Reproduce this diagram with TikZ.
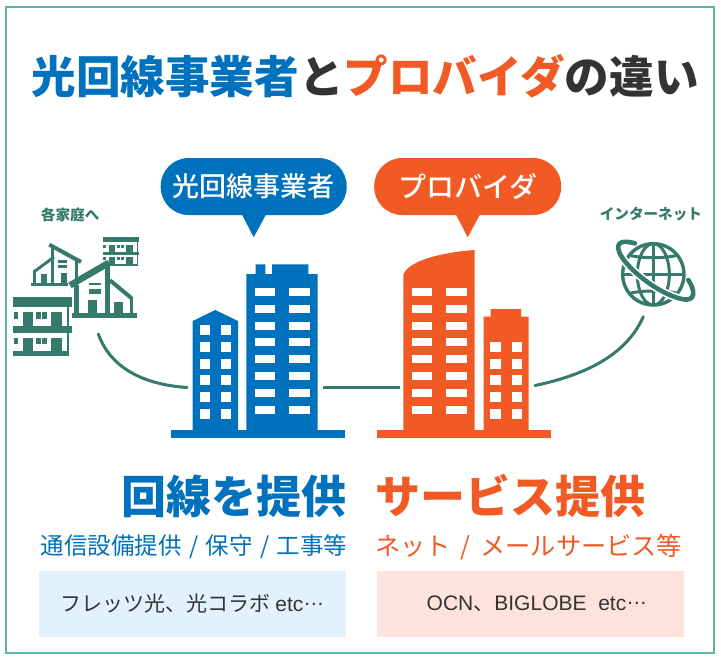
\documentclass[tikz,border=0pt]{standalone}
\usepackage{fontspec}
\setmainfont{Noto Sans CJK JP}
\newfontfamily\latinfont{Liberation Sans}
\newfontfamily\mediumfont{Noto Sans CJK JP Medium}
\newcommand{\middots}{\raisebox{.3em}{\latinfont…}}
\definecolor{lineblue}{HTML}{0071BC}
\definecolor{proorange}{HTML}{F15A24}
\definecolor{housegreen}{HTML}{357A6B}
\definecolor{framegreen}{HTML}{5AB5A0}
\definecolor{titlegray}{HTML}{333333}
\definecolor{paleblue}{HTML}{E1F2FD}
\definecolor{paleorange}{HTML}{FDE3DB}
\tikzset{
    textlabel/.style={inner sep=0pt, outer sep=0pt},
    headlabel/.style={textlabel, font=\bfseries\fontsize{45}{50}\selectfont},
    sublabel/.style={textlabel, font=\fontsize{23.5}{28}\selectfont},
    iconlabel/.style={textlabel, text=housegreen, font=\bfseries\fontsize{14.6}{18}\selectfont},
    bubble/.style={rectangle, rounded corners=28pt, inner sep=0pt, text=white, minimum height=57pt,
        font=\mediumfont\fontsize{27}{32}\selectfont},
    notebox/.style={rectangle, inner sep=0pt, minimum width=307pt, minimum height=66pt, text=titlegray,
        font=\fontsize{21}{24}\selectfont},
    wire/.style={draw=housegreen, line width=3pt},
    apartment/.pic={
        \fill[white] (0,0) rectangle (178,176);
        \fill[housegreen] (0,0) rectangle (178,30);
        \fill[housegreen] (0,87) rectangle (178,107);
        \fill[housegreen] (0,162) rectangle (170,176);
        \fill[housegreen] (164,30) rectangle (170,162);
        \foreach \y in {0,76} {
            \fill[housegreen] (4,45+\y) rectangle (17,64+\y);
            \fill[housegreen] (30,45+\y) rectangle (60,87+\y);
            \fill[housegreen] (70,45+\y) rectangle (84,64+\y);
            \fill[housegreen] (89,45+\y) rectangle (102,64+\y);
            \fill[housegreen] (115,45+\y) rectangle (147,87+\y);
        }
    }
}
\begin{document}
\begin{tikzpicture}[x=1pt, y=-1pt]
    \useasboundingbox (0,0) rectangle (721,659);
    \fill[white] (0,0) rectangle (721,659);
    \draw[framegreen, line width=2.4pt] (6,7) rectangle (714,653);

    % title
    \node[textlabel, anchor=west, font=\bfseries\fontsize{44.6}{50}\selectfont] (title) at (31.5,76)
        {\textcolor{lineblue}{光回線事業者}\textcolor{titlegray}{と}\textcolor{proorange}{プロバイダ}\textcolor{titlegray}{の違い}};

    % bubbles
    \node[bubble, fill=lineblue, minimum width=186pt] (bubbleLine) at (253.7,186.5) {光回線事業者};
    \node[bubble, fill=proorange, minimum width=187pt, font=\mediumfont\fontsize{28}{32}\selectfont] (bubblePro) at (467.7,186.5) {プロバイダ};
    \fill[lineblue] (241.7,214) -- (253.7,237.3) -- (266.3,214) -- cycle;
    \fill[proorange] (455.7,214) -- (467.7,237.3) -- (480.3,214) -- cycle;

    % blue buildings
    \fill[lineblue] (170.7,430) rectangle (344.7,437.7);
    \fill[lineblue] (192.7,431) -- (192.7,321) -- (215.3,310) -- (238,321) -- (238,431) -- cycle;
    \fill[lineblue] (246.3,431) -- (246.3,274) -- (255.7,274) -- (255.7,264.3) -- (265.3,264.3) -- (265.3,274)
        -- (272,274) -- (272,264.3) -- (308.3,264.3) -- (308.3,274) -- (317.7,274) -- (317.7,431) -- cycle;
    \foreach \row in {0,...,5} {
        \fill[white] (199.7,325+16.8*\row) rectangle (209.7,335+16.8*\row);
        \fill[white] (221,325+16.8*\row) rectangle (231,335+16.8*\row);
    }
    \foreach \row in {0,...,7} {
        \fill[white] (254.7,288+16.8*\row) rectangle (275.3,296+16.8*\row);
        \fill[white] (289.3,288+16.8*\row) rectangle (309.7,296+16.8*\row);
    }

    % orange buildings
    \fill[proorange] (376.7,430) rectangle (550.7,437.7);
    \fill[proorange] (403.3,431) -- (403.3,275) .. controls (408,260) and (445,252) .. (474.7,250) -- (474.7,431) -- cycle;
    \fill[proorange] (483.7,431) -- (483.7,316.7) -- (490.7,316.7) -- (490.7,309) -- (521,309) -- (521,316.7)
        -- (528.7,316.7) -- (528.7,431) -- cycle;
    \foreach \row in {0,...,7} {
        \fill[white] (411.7,288+16.8*\row) rectangle (432.3,296+16.8*\row);
        \fill[white] (446,288+16.8*\row) rectangle (466.7,296+16.8*\row);
    }
    \foreach \row in {0,...,4} {
        \fill[white] (490.3,341.7+16.8*\row) rectangle (500.7,351.7+16.8*\row);
        \fill[white] (512,341.7+16.8*\row) rectangle (522,351.7+16.8*\row);
    }

    % houses
    \begin{scope}[shift={(10,232)}, scale=1/3]
        \pic[transform shape, xscale=0.62, yscale=0.5] at (278,15) {apartment};
        % small house
        \fill[housegreen] (62,152) rectangle (175,162);
        \fill[housegreen] (122,40) rectangle (133,152);
        \fill[housegreen] (195,85) rectangle (205,140);
        \fill[housegreen] (70,115) rectangle (79,152);
        \draw[housegreen, line width=3pt] (132,75) -- (74,118);
        \draw[housegreen, line width=4pt] (118,38) -- (213,90);
        \fill[housegreen] (93,127) rectangle (112,152);
        \fill[housegreen] (152,122) rectangle (170,152);
        \fill[housegreen] (143,85) rectangle (170,93);
        \fill[housegreen] (143,100) rectangle (170,108);
        % big house
        \fill[white] (190,160) -- (295,100) -- (295,243) -- (190,243) -- cycle;
        \fill[housegreen] (180,243) rectangle (382,257);
        \fill[housegreen] (285,90) rectangle (300,243);
        \fill[housegreen] (192,160) rectangle (206,243);
        \fill[housegreen] (359,195) rectangle (368,243);
        \draw[housegreen, line width=4pt] (300,145) -- (364,198);
        \draw[housegreen, line width=6.5pt] (180,160) -- (297,92);
        \fill[housegreen] (233,205) rectangle (260,243);
        \fill[housegreen] (312,210) rectangle (340,243);
        \fill[housegreen] (238,152) rectangle (272,160);
        \fill[housegreen] (238,172) rectangle (272,187);
        \pic[transform shape] at (8,196) {apartment};
        \fill[housegreen] (178,196) rectangle (186,226);
        \fill[housegreen] (178,283) rectangle (186,303);
    \end{scope}

    % globe
    \begin{scope}[shift={(540,195)}, scale=1/3]
        \draw[housegreen, line width=3.4pt] (340,238) circle (92);
        \draw[housegreen, line width=3pt] (340,238) ellipse (48 and 92);
        \draw[housegreen, line width=3pt] (340,146) -- (340,330);
        \draw[housegreen, line width=3pt] (248,238) -- (432,238);
        \draw[housegreen, line width=3pt] (272,182) .. controls (310,190) and (370,190) .. (408,182);
        \draw[housegreen, line width=3pt] (272,294) .. controls (310,286) and (370,286) .. (408,294);
        \draw[white, line width=8pt] (238,172) .. controls (255,215) and (350,295) .. (425,312);
        \draw[housegreen, line width=4.6pt, line cap=round] (285,145) .. controls (250,135) and (225,140) .. (238,172)
            .. controls (255,215) and (350,295) .. (425,312) .. controls (470,322) and (465,285) .. (445,255);
    \end{scope}

    % icon labels
    \node[iconlabel, anchor=west] (homeLabel) at (41,215) {各家庭へ};
    \node[iconlabel, anchor=east] (netLabel) at (702,214) {インターネット};

    % connectors
    \coordinate (homeEnd) at (98.3,334);
    \coordinate (lineLeft) at (187,387.5);
    \coordinate (lineRight) at (323,387.5);
    \coordinate (proLeft) at (399.5,387.5);
    \coordinate (proRight) at (535,385.5);
    \coordinate (netEnd) at (643.3,316.7);
    \draw[wire, line cap=round] (homeEnd) .. controls (112,372) and (150,385) .. (lineLeft);
    \draw[wire] (lineRight) -- (proLeft);
    \draw[wire, line cap=round] (netEnd) .. controls (625,358) and (580,376) .. (proRight);

    % captions
    \node[headlabel, text=lineblue, anchor=east] (lineHead) at (346.5,496) {回線を提供};
    \node[headlabel, text=proorange, anchor=west] (proHead) at (375,496) {サービス提供};
    \node[sublabel, text=lineblue, anchor=east] (lineSub) at (347.5,547) {通信設備提供\hspace{7.5pt}/\hspace{7.5pt}保守\hspace{7.5pt}/\hspace{7.5pt}工事等};
    \node[sublabel, text=proorange, anchor=west, font=\fontsize{25.2}{28}\selectfont] (proSub) at (375,547) {ネット\hspace{10pt}/\hspace{10pt}メールサービス等};

    % boxes
    \node[notebox, fill=paleblue] (lineBox) at (192.5,604) {フレッツ光、光コラボ {\latinfont etc}\middots};
    \node[notebox, fill=paleorange] (proBox) at (530,604) {\hspace{14pt}{\latinfont OCN}、{\latinfont BIGLOBE\ \ etc}\middots};
\end{tikzpicture}
\end{document}
